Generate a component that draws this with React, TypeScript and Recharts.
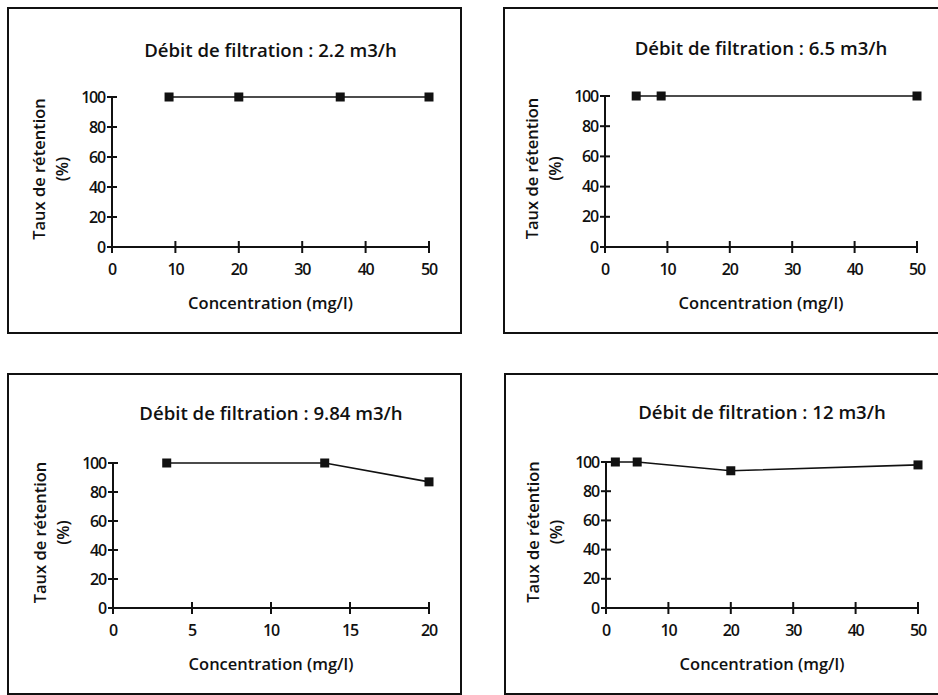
import React from 'react';
import { LineChart, Line, XAxis, YAxis } from 'recharts';

const FONT = '"Open Sans", sans-serif';
const INK = '#111';

// concentrations (mg/l) and retention rates (%)
const conc22 = [9, 20, 36, 50];
const ret22 = [100, 100, 100, 100];

const conc65 = [5, 9, 50];
const ret65 = [100, 100, 100];

const conc984 = [3.4, 13.4, 20];
const ret984 = [100, 100, 87];

const conc12 = [1.5, 5, 20, 50];
const ret12 = [100, 100, 94, 98];

const ticks50 = [0, 10, 20, 30, 40, 50];
const ticks20 = [0, 5, 10, 15, 20];
const yTicks = [0, 20, 40, 60, 80, 100];

const AXIS_W = 60;
const AXIS_H = 60;

const toRows = (xs: number[], ys: number[]) => xs.map((c, i) => ({ c, r: ys[i] }));

const textStyle = {
  fontFamily: FONT,
  fontWeight: 600,
  fill: INK,
};

// ticks cross the axis line, like the scanned original
const XTick = (props: any) => {
  const { x, payload, axisY } = props;
  return (
    <g>
      <line x1={x} x2={x} y1={axisY - 6} y2={axisY + 6} stroke={INK} strokeWidth={2} />
      <text x={x} y={axisY + 28} textAnchor="middle" fontSize={16} letterSpacing={-1.2} {...textStyle}>
        {payload.value}
      </text>
    </g>
  );
};

const YTick = (props: any) => {
  const { y, payload, axisX } = props;
  return (
    <g>
      <line x1={axisX - 5} x2={axisX + 5} y1={y} y2={y} stroke={INK} strokeWidth={2} />
      <text x={axisX - 7} y={y + 5.5} textAnchor="end" fontSize={16} letterSpacing={-1.2} {...textStyle}>
        {payload.value}
      </text>
    </g>
  );
};

const Square = (props: any) => {
  const { cx, cy } = props;
  return <rect x={cx - 4.5} y={cy - 4.5} width={9} height={9} fill={INK} />;
};

type Panel = {
  title: string;
  rows: { c: number; r: number }[];
  xMax: number;
  xTicks: number[];
  left: number;
  top: number;
  w: number;
  h: number;
  margin: { top: number; right: number; left: number; bottom: number };
  box: { left: number; top: number; width: number; height: number };
  titleY: number;
};

const panels: Panel[] = [
  {
    title: 'Débit de filtration : 2.2 m3/h',
    rows: toRows(conc22, ret22),
    xMax: 50,
    xTicks: ticks50,
    left: 0, top: 0, w: 470, h: 340,
    margin: { top: 97, right: 41, left: 52, bottom: 33 },
    box: { left: 7, top: 7, width: 455, height: 327 },
    titleY: 50,
  },
  {
    title: 'Débit de filtration : 6.5 m3/h',
    rows: toRows(conc65, ret65),
    xMax: 50,
    xTicks: ticks50,
    left: 468, top: 0, w: 470, h: 340,
    margin: { top: 96, right: 21, left: 77, bottom: 33 },
    box: { left: 503, top: 7, width: 460, height: 327 },
    titleY: 48,
  },
  {
    title: 'Débit de filtration : 9.84 m3/h',
    rows: toRows(conc984, ret984),
    xMax: 20,
    xTicks: ticks20,
    left: 0, top: 340, w: 470, h: 355,
    margin: { top: 123, right: 41, left: 53, bottom: 27 },
    box: { left: 7, top: 373, width: 455, height: 322 },
    titleY: 413,
  },
  {
    title: 'Débit de filtration : 12 m3/h',
    rows: toRows(conc12, ret12),
    xMax: 50,
    xTicks: ticks50,
    left: 468, top: 340, w: 470, h: 355,
    margin: { top: 122, right: 20, left: 78, bottom: 27 },
    box: { left: 504, top: 373, width: 460, height: 322 },
    titleY: 412,
  },
];

function RetentionChart({ p }: { p: Panel }) {
  const axisX = p.margin.left + AXIS_W;
  const axisY = p.h - p.margin.bottom - AXIS_H;
  const plotW = p.w - axisX - p.margin.right;
  const plotH = axisY - p.margin.top;
  const midY = p.margin.top + plotH / 2 - 3;

  const yLabel = () => (
    <g>
      {[
        { dx: -74, s: 'Taux de rétention' },
        { dx: -51, s: '(%)' },
      ].map(({ dx, s }) => (
        <text
          key={s}
          x={axisX + dx}
          y={midY}
          transform={`rotate(-90, ${axisX + dx}, ${midY})`}
          textAnchor="middle"
          dominantBaseline="central"
          fontSize={16.5}
          {...textStyle}
        >
          {s}
        </text>
      ))}
    </g>
  );

  const xLabel = () => (
    <text x={axisX + plotW / 2} y={axisY + 62} textAnchor="middle" fontSize={16.5} {...textStyle}>
      Concentration (mg/l)
    </text>
  );

  return (
    <>
      <div
        style={{
          position: 'absolute',
          left: p.box.left,
          top: p.box.top,
          width: p.box.width,
          height: p.box.height,
          border: `2px solid ${INK}`,
          boxSizing: 'border-box',
        }}
      />
      <div
        style={{
          position: 'absolute',
          left: p.left + axisX,
          top: p.titleY - 13,
          width: plotW,
          lineHeight: '26px',
          textAlign: 'center',
          fontFamily: FONT,
          fontSize: 18.6,
          fontWeight: 600,
          color: INK,
          whiteSpace: 'nowrap',
        }}
      >
        {p.title}
      </div>
      <div style={{ position: 'absolute', left: p.left, top: p.top }}>
        <LineChart width={p.w} height={p.h} data={p.rows} margin={p.margin}>
          <XAxis
            dataKey="c"
            type="number"
            domain={[0, p.xMax]}
            ticks={p.xTicks}
            height={AXIS_H}
            tick={(t: any) => <XTick {...t} axisY={axisY} />}
            axisLine={{ stroke: INK, strokeWidth: 2 }}
            tickLine={false}
            label={xLabel}
          />
          <YAxis
            dataKey="r"
            type="number"
            domain={[0, 100]}
            ticks={yTicks}
            width={AXIS_W}
            tick={(t: any) => <YTick {...t} axisX={axisX} />}
            axisLine={{ stroke: INK, strokeWidth: 2 }}
            tickLine={false}
            label={yLabel}
          />
          <Line
            type="linear"
            dataKey="r"
            stroke={INK}
            strokeWidth={1.6}
            dot={<Square />}
            activeDot={false}
            isAnimationActive={false}
          />
        </LineChart>
      </div>
    </>
  );
}

export default function App() {
  return (
    <div style={{ position: 'absolute', left: 0, top: 0, width: 938, height: 695, overflow: 'hidden', background: '#fff' }}>
      {panels.map((p) => (
        <RetentionChart key={p.title} p={p} />
      ))}
    </div>
  );
}
